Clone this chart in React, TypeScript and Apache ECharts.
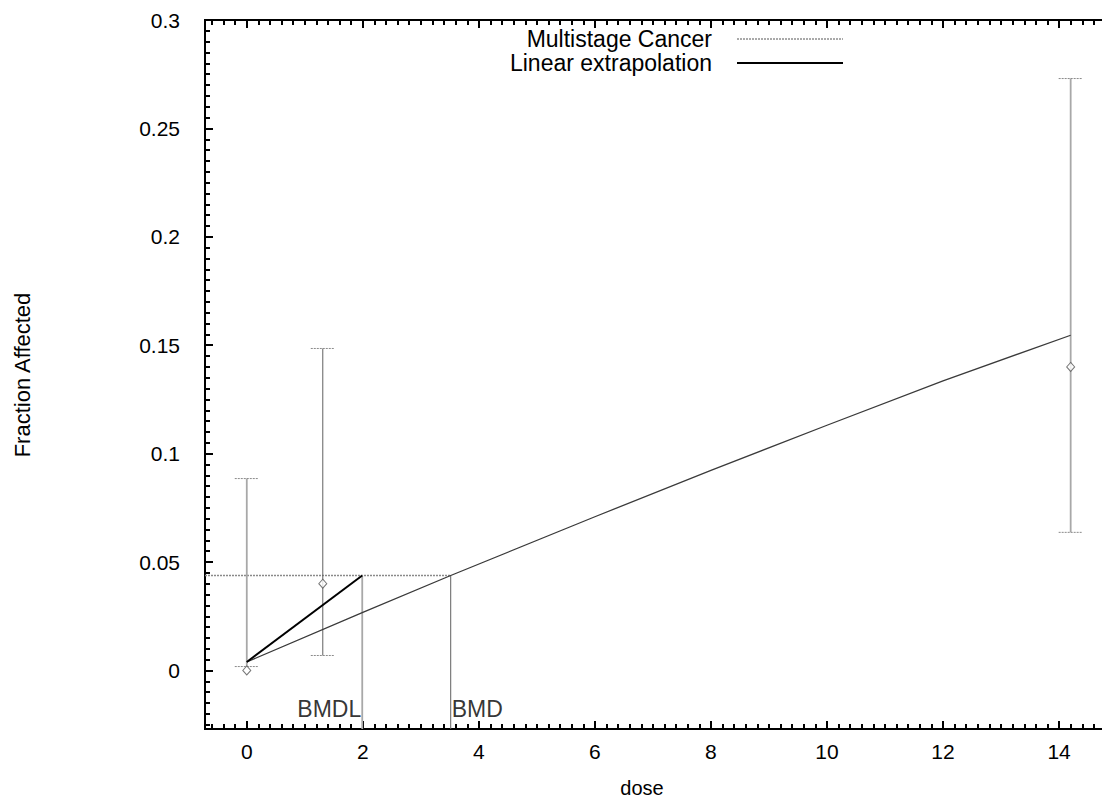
import React, { useEffect, useRef } from "react";
import * as echarts from "echarts";

// ---- data ----
const doses = [0, 1.31, 14.2];
const observed = [0, 0.04, 0.14];
const lowerCI = [0.0018, 0.0069, 0.0637];
const upperCI = [0.0885, 0.1485, 0.273];

const fitDose = [0, 2, 3.515, 6, 8, 10, 12, 14.2];
const fitResp = [0.0039, 0.0268, 0.0438, 0.0709, 0.0923, 0.1131, 0.1336, 0.1546];

const background = 0.0039;
const bmrLevel = 0.0438;
const bmd = 3.515;
const bmdl = 1.99;

const xMajor = [0, 2, 4, 6, 8, 10, 12, 14];
const yMajor = [0, 0.05, 0.1, 0.15, 0.2, 0.25, 0.3];

const X_MIN = -0.72;
const X_MAX = 14.74;
const Y_MIN = -0.027;
const Y_MAX = 0.3;

const FONT = "'Liberation Sans', Arial, Helvetica, sans-serif";

function range(start: number, stop: number, step: number): number[] {
  const out: number[] = [];
  const n = Math.round((stop - start) / step);
  for (let i = 0; i <= n; i++) out.push(Math.round((start + i * step) * 10000) / 10000);
  return out;
}

const xMinor = range(-0.6, 14.6, 0.2);
const yMinor = range(-0.025, 0.3, 0.005);

function xAxisDef(position: "top" | "bottom", ticks: number[], len: number, labels: boolean) {
  return {
    type: "value",
    position,
    min: X_MIN,
    max: X_MAX,
    axisLine: { show: true, onZero: false, lineStyle: { color: "#000", width: 2 } },
    axisTick: { show: true, inside: true, length: len, customValues: ticks, lineStyle: { color: "#000", width: 2 } },
    axisLabel: labels
      ? { show: true, customValues: xMajor, fontSize: 21, color: "#000", fontFamily: FONT, margin: 12 }
      : { show: false },
    splitLine: { show: false },
  };
}

function yAxisDef(ticks: number[], len: number, labels: boolean) {
  return {
    type: "value",
    position: "left",
    min: Y_MIN,
    max: Y_MAX,
    axisLine: { show: true, onZero: false, lineStyle: { color: "#000", width: 2 } },
    axisTick: { show: true, inside: true, length: len, customValues: ticks, lineStyle: { color: "#000", width: 2 } },
    axisLabel: labels
      ? { show: true, customValues: yMajor, fontSize: 21, color: "#000", fontFamily: FONT, margin: 25 }
      : { show: false },
    splitLine: { show: false },
  };
}

export default function App() {
  const ref = useRef<HTMLDivElement>(null);

  useEffect(() => {
    if (!ref.current) return;
    const chart = echarts.init(ref.current, null, { renderer: "svg" });

    const errData = doses.map((d, i) => [d, lowerCI[i], upperCI[i]]);
    const obsData = doses.map((d, i) => [d, observed[i]]);
    const fitData = fitDose.map((d, i) => [d, fitResp[i]]);
    const labelY = -0.0178;
    const labelStyle = { show: true, color: "#000", fontSize: 23, fontFamily: FONT };

    chart.setOption({
      animation: false,
      backgroundColor: "#fff",
      grid: { left: 205, top: 20, right: 0, bottom: 69, containLabel: false },
      xAxis: [
        xAxisDef("bottom", xMajor, 8, true),
        xAxisDef("bottom", xMinor, 5, false),
        xAxisDef("top", xMajor, 8, false),
        xAxisDef("top", xMinor, 5, false),
      ],
      yAxis: [yAxisDef(yMajor, 8, true), yAxisDef(yMinor, 5, false)],
      graphic: [
        {
          type: "text",
          x: 22,
          y: 375,
          rotation: Math.PI / 2,
          style: { text: "Fraction Affected", fontSize: 22, fontFamily: FONT, fill: "#000", align: "center", verticalAlign: "middle" },
        },
        {
          type: "text",
          x: 642,
          y: 788,
          style: { text: "dose", fontSize: 20, fontFamily: FONT, fill: "#000", align: "center", verticalAlign: "middle" },
        },
        {
          type: "text",
          x: 712,
          y: 39,
          style: { text: "Multistage Cancer", fontSize: 23, fontFamily: FONT, fill: "#000", align: "right", verticalAlign: "middle" },
        },
        {
          type: "line",
          shape: { x1: 737, y1: 39, x2: 843, y2: 39 },
          style: { stroke: "#555", lineWidth: 1, lineDash: [2, 1] },
        },
        {
          type: "text",
          x: 712,
          y: 63,
          style: { text: "Linear extrapolation", fontSize: 23, fontFamily: FONT, fill: "#000", align: "right", verticalAlign: "middle" },
        },
        {
          type: "line",
          shape: { x1: 737, y1: 63, x2: 843, y2: 63 },
          style: { stroke: "#000", lineWidth: 2 },
        },
      ],
      series: [
        {
          type: "custom",
          name: "error bars",
          xAxisIndex: 0,
          yAxisIndex: 0,
          data: errData,
          encode: { x: 0, y: [1, 2] },
          z: 3,
          renderItem: (params: any, api: any) => {
            const x = api.value(0);
            const lo = api.coord([x, api.value(1)]);
            const hi = api.coord([x, api.value(2)]);
            const idx = params.dataIndex;
            const stroke = idx === 1 ? "#606060" : "#a8a8a8";
            const w = idx === 1 ? 1 : 1.8;
            const capStyle = { stroke: "#8a8a8a", lineWidth: 1, lineDash: [2, 1] };
            return {
              type: "group",
              children: [
                { type: "line", shape: { x1: lo[0], y1: lo[1], x2: hi[0], y2: hi[1] }, style: { stroke, lineWidth: w } },
                { type: "line", shape: { x1: lo[0] - 12, y1: lo[1], x2: lo[0] + 12, y2: lo[1] }, style: capStyle },
                { type: "line", shape: { x1: hi[0] - 12, y1: hi[1], x2: hi[0] + 12, y2: hi[1] }, style: capStyle },
              ],
            };
          },
        },
        {
          type: "line",
          name: "BMR",
          data: [[X_MIN, bmrLevel], [bmd, bmrLevel]],
          symbol: "none",
          lineStyle: { color: "#8a8a8a", width: 1.5, type: [2, 1] },
          z: 2,
        },
        {
          type: "line",
          name: "BMDL line",
          data: [[bmdl, Y_MIN], [bmdl, bmrLevel]],
          symbol: "none",
          lineStyle: { color: "#a8a8a8", width: 1.8 },
          z: 2,
        },
        {
          type: "line",
          name: "BMD line",
          data: [[bmd, Y_MIN], [bmd, bmrLevel]],
          symbol: "none",
          lineStyle: { color: "#606060", width: 1 },
          z: 2,
        },
        {
          type: "line",
          name: "Multistage Cancer",
          data: fitData,
          symbol: "none",
          lineStyle: { color: "#3a3a3a", width: 1.3 },
          z: 4,
        },
        {
          type: "line",
          name: "Linear extrapolation",
          data: [[0, background], [bmdl, bmrLevel]],
          symbol: "none",
          lineStyle: { color: "#000", width: 2 },
          z: 5,
        },
        {
          type: "scatter",
          name: "observed",
          data: obsData,
          symbol: "diamond",
          symbolSize: [8, 9],
          itemStyle: { color: "#fff", borderColor: "#555", borderWidth: 1 },
          z: 6,
        },
        {
          type: "scatter",
          name: "labels",
          data: [
            { value: [bmdl, labelY], label: { ...labelStyle, formatter: "BMDL", position: "left", distance: 1 } },
            { value: [bmd, labelY], label: { ...labelStyle, formatter: "BMD", position: "right", distance: 1 } },
          ],
          symbol: "circle",
          symbolSize: 0,
          itemStyle: { color: "#000" },
          label: labelStyle,
          z: 6,
        },
      ],
    });

    return () => chart.dispose();
  }, []);

  return (
    <div
      ref={ref}
      style={{ position: "absolute", left: 0, top: 0, width: 1102, height: 798, background: "#fff" }}
    />
  );
}
